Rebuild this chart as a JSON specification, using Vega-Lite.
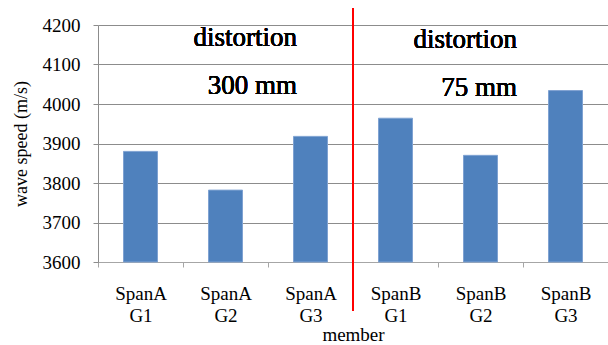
{
  "$schema": "https://vega.github.io/schema/vega-lite/v6.json",
  "autosize": {"type": "none"},
  "width": 510,
  "height": 237,
  "padding": {"left": 98, "top": 25, "right": 0, "bottom": 83},
  "background": "white",
  "config": {
    "view": {"stroke": null},
    "font": "Liberation Serif",
    "axisX": {"labelFont": "Liberation Serif", "titleFont": "Liberation Serif"},
    "axisY": {"labelFont": "Liberation Serif", "titleFont": "Liberation Serif"},
    "axis": {
      "labelColor": "#000000",
      "titleColor": "#000000",
      "titleFontWeight": "normal",
      "labelFontSize": 19,
      "titleFontSize": 19
    }
  },
  "data": {
    "values": [
      {"member": "SpanA G1", "speed": 3880},
      {"member": "SpanA G2", "speed": 3782},
      {"member": "SpanA G3", "speed": 3918},
      {"member": "SpanB G1", "speed": 3964},
      {"member": "SpanB G2", "speed": 3870},
      {"member": "SpanB G3", "speed": 4034}
    ]
  },
  "layer": [
    {
      "mark": {"type": "bar", "color": "#4F81BD", "stroke": "#7FA2D2", "strokeWidth": 1, "width": {"band": 0.4}},
      "encoding": {
        "x": {
          "field": "member",
          "type": "nominal",
          "sort": null,
          "scale": {"paddingInner": 0, "paddingOuter": 0},
          "axis": {
            "title": "member",
            "labelFont": "Liberation Serif",
            "titleFont": "Liberation Serif",
            "labelAngle": 0,
            "tickBand": "extent",
            "tickSize": 5,
            "tickColor": "#a6a6a6",
            "domainColor": "#a6a6a6",
            "grid": false,
            "labelExpr": "split(datum.label, ' ')",
            "labelBaseline": "alphabetic",
            "labelPadding": 32,
            "labelLineHeight": 22,
            "labelOverlap": false,
            "titlePadding": 0
          }
        },
        "y": {
          "field": "speed",
          "type": "quantitative",
          "scale": {"domain": [3600, 4200], "zero": false, "nice": false},
          "axis": {
            "title": "wave speed (m/s)",
            "labelFont": "Liberation Serif",
            "titleFont": "Liberation Serif",
            "titleFontSize": 18,
            "values": [3600, 3700, 3800, 3900, 4000, 4100, 4200],
            "format": "d",
            "labelOverlap": false,
            "tickSize": 5,
            "tickColor": "#8c8c8c",
            "domainColor": "#8c8c8c",
            "gridColor": "#8c8c8c",
            "labelPadding": 13,
            "titlePadding": 12
          }
        },
        "y2": {"datum": 3600}
      }
    },
    {
      "mark": {"type": "rule", "color": "#ff0000", "strokeWidth": 2},
      "encoding": {
        "x": {
          "datum": "SpanB G1",
          "type": "nominal",
          "bandPosition": 0,
          "axis": {
            "title": "member",
            "labelFont": "Liberation Serif",
            "titleFont": "Liberation Serif",
            "labelAngle": 0,
            "tickBand": "extent",
            "tickSize": 5,
            "tickColor": "#a6a6a6",
            "domainColor": "#a6a6a6",
            "grid": false,
            "labelExpr": "split(datum.label, ' ')",
            "labelBaseline": "alphabetic",
            "labelPadding": 32,
            "labelLineHeight": 22,
            "labelOverlap": false,
            "titlePadding": 0
          }
        },
        "y": {
          "datum": 4243,
          "type": "quantitative",
          "axis": {
            "title": "wave speed (m/s)",
            "labelFont": "Liberation Serif",
            "titleFont": "Liberation Serif",
            "titleFontSize": 18,
            "values": [3600, 3700, 3800, 3900, 4000, 4100, 4200],
            "format": "d",
            "labelOverlap": false,
            "tickSize": 5,
            "tickColor": "#8c8c8c",
            "domainColor": "#8c8c8c",
            "gridColor": "#8c8c8c",
            "labelPadding": 13,
            "titlePadding": 12
          }
        },
        "y2": {"datum": 3476}
      }
    },
    {
      "mark": {"type": "text", "align": "right", "baseline": "alphabetic", "fontSize": 27, "fontWeight": "normal", "lineHeight": 48, "font": "Liberation Serif", "color": "#000000"},
      "encoding": {
        "text": {"datum": ["distortion", "300 mm"]},
        "x": {
          "datum": "SpanA G3",
          "type": "nominal",
          "bandPosition": 0.34,
          "axis": {
            "title": "member",
            "labelFont": "Liberation Serif",
            "titleFont": "Liberation Serif",
            "labelAngle": 0,
            "tickBand": "extent",
            "tickSize": 5,
            "tickColor": "#a6a6a6",
            "domainColor": "#a6a6a6",
            "grid": false,
            "labelExpr": "split(datum.label, ' ')",
            "labelBaseline": "alphabetic",
            "labelPadding": 32,
            "labelLineHeight": 22,
            "labelOverlap": false,
            "titlePadding": 0
          }
        },
        "y": {
          "datum": 4147,
          "type": "quantitative",
          "axis": {
            "title": "wave speed (m/s)",
            "labelFont": "Liberation Serif",
            "titleFont": "Liberation Serif",
            "titleFontSize": 18,
            "values": [3600, 3700, 3800, 3900, 4000, 4100, 4200],
            "format": "d",
            "labelOverlap": false,
            "tickSize": 5,
            "tickColor": "#8c8c8c",
            "domainColor": "#8c8c8c",
            "gridColor": "#8c8c8c",
            "labelPadding": 13,
            "titlePadding": 12
          }
        }
      }
    },
    {
      "mark": {"type": "text", "align": "right", "baseline": "alphabetic", "fontSize": 27, "fontWeight": "normal", "lineHeight": 48, "font": "Liberation Serif", "color": "#000000"},
      "encoding": {
        "text": {"datum": ["distortion", "75 mm"]},
        "x": {
          "datum": "SpanB G2",
          "type": "nominal",
          "bandPosition": 0.93,
          "axis": {
            "title": "member",
            "labelFont": "Liberation Serif",
            "titleFont": "Liberation Serif",
            "labelAngle": 0,
            "tickBand": "extent",
            "tickSize": 5,
            "tickColor": "#a6a6a6",
            "domainColor": "#a6a6a6",
            "grid": false,
            "labelExpr": "split(datum.label, ' ')",
            "labelBaseline": "alphabetic",
            "labelPadding": 32,
            "labelLineHeight": 22,
            "labelOverlap": false,
            "titlePadding": 0
          }
        },
        "y": {
          "datum": 4142,
          "type": "quantitative",
          "axis": {
            "title": "wave speed (m/s)",
            "labelFont": "Liberation Serif",
            "titleFont": "Liberation Serif",
            "titleFontSize": 18,
            "values": [3600, 3700, 3800, 3900, 4000, 4100, 4200],
            "format": "d",
            "labelOverlap": false,
            "tickSize": 5,
            "tickColor": "#8c8c8c",
            "domainColor": "#8c8c8c",
            "gridColor": "#8c8c8c",
            "labelPadding": 13,
            "titlePadding": 12
          }
        }
      }
    }
  ]
}
